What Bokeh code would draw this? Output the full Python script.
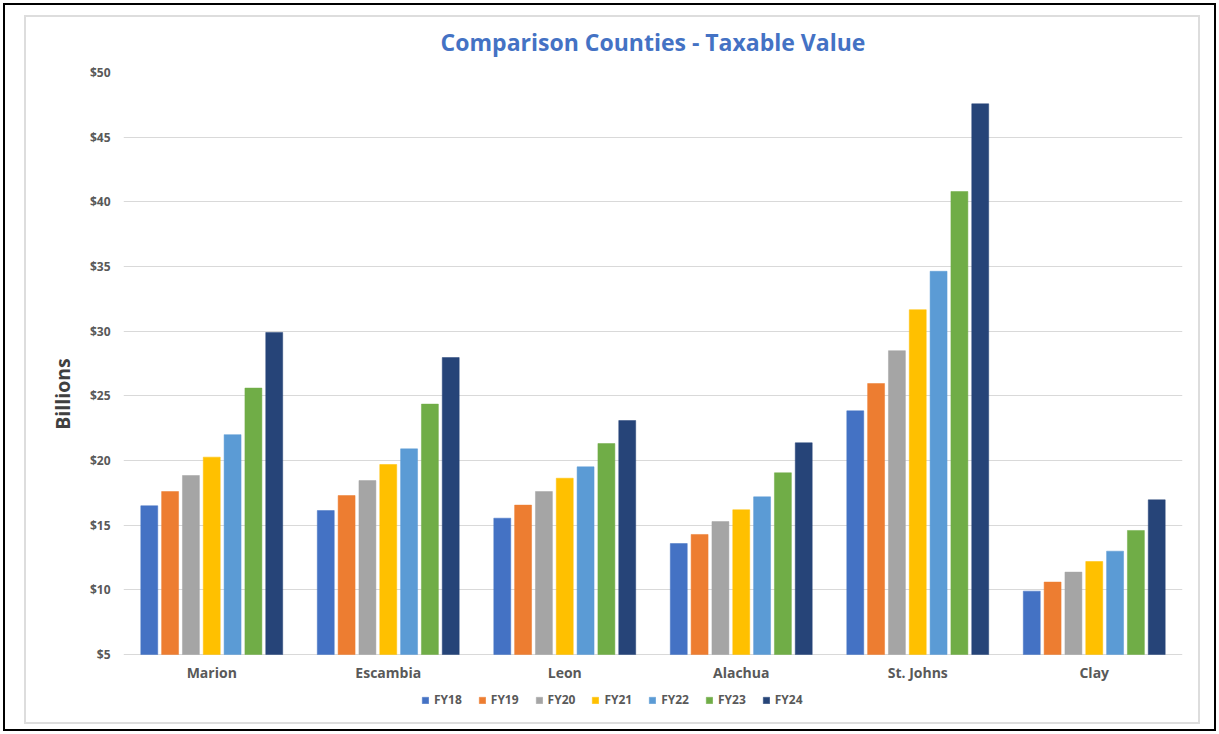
from bokeh.plotting import figure
from bokeh.models import (ColumnDataSource, FactorRange, FixedTicker, NumeralTickFormatter,
                          Legend, LegendItem)
from bokeh.core.properties import value
from bokeh.transform import dodge
from bokeh.embed import file_html
from bokeh.resources import INLINE

counties = ["Marion", "Escambia", "Leon", "Alachua", "St. Johns", "Clay"]
years = ["FY18", "FY19", "FY20", "FY21", "FY22", "FY23", "FY24"]
FY18 = [16.5, 16.13, 15.54, 13.58, 23.84, 9.9]
FY19 = [17.6, 17.29, 16.55, 14.28, 25.95, 10.6]
FY20 = [18.84, 18.45, 17.6, 15.28, 28.49, 11.37]
FY21 = [20.26, 19.69, 18.63, 16.19, 31.66, 12.19]
FY22 = [22.0, 20.9, 19.51, 17.19, 34.63, 12.99]
FY23 = [25.6, 24.36, 21.31, 19.05, 40.8, 14.59]
FY24 = [29.9, 27.96, 23.09, 21.37, 47.58, 16.96]
series = [FY18, FY19, FY20, FY21, FY22, FY23, FY24]
colors = ["#4472C4", "#ED7D31", "#A5A5A5", "#FFC000", "#5B9BD5", "#70AD47", "#264478"]
y_ticks = [5, 10, 15, 20, 25, 30, 35, 40, 45, 50]

data = {"county": counties}
for name, vals in zip(years, series):
    data[name] = vals
src = ColumnDataSource(data)

FONT = "Open Sans"

# layout geometry (pixels)
PX_PER_UNIT = 582 / 45.0          # $5 .. $50 spans 582 px
BELOW_BASE_PX = 61                # frame extends below the $5 baseline for labels + legend
Y_START = 5 - BELOW_BASE_PX / PX_PER_UNIT
LABEL_Y = 5 - 18 / PX_PER_UNIT

# chart-area borders painted behind the (transparent) canvas border area
g_black = "linear-gradient(#000000,#000000)"
g_gray = "linear-gradient(#DDDDDD,#DDDDDD)"
frame_styles = {
    "background-color": "white",
    "background-image": ", ".join([g_black] * 4 + [g_gray] * 4),
    "background-position": "3px 3px, 3px 729px, 3px 3px, 1214px 3px, "
                           "24px 15px, 24px 722px, 24px 15px, 1198px 15px",
    "background-size": "1213px 2px, 1213px 2px, 2px 728px, 2px 728px, "
                       "1176px 2px, 1176px 2px, 2px 709px, 2px 709px",
    "background-repeat": "no-repeat",
}

p = figure(x_range=FactorRange(*counties, range_padding=0), y_range=(Y_START, 50),
           frame_width=1059, frame_height=582 + BELOW_BASE_PX,
           min_border_left=123, min_border_right=36, min_border_top=72, min_border_bottom=18,
           output_backend="svg", toolbar_location=None,
           background_fill_color="white", border_fill_alpha=0,
           styles=frame_styles)
p.outline_line_color = None

pitch = 0.118
items = []
for j, (name, col) in enumerate(zip(years, colors)):
    r = p.vbar(x=dodge("county", (j - 3) * pitch, range=p.x_range), top=name, bottom=5,
               width=0.096, source=src, fill_color=col, line_color=col, line_width=0.5)
    items.append(LegendItem(label=name, renderers=[r]))

# category labels under the $5 baseline
p.text(x="county", y=LABEL_Y, text="county", source=src,
       text_font=value(FONT), text_font_style="bold", text_font_size="14px",
       text_color="#595959", text_align="center", text_baseline="middle")

# y axis
p.yaxis.ticker = FixedTicker(ticks=y_ticks)
p.yaxis.formatter = NumeralTickFormatter(format="$0")
p.yaxis.axis_line_color = None
p.yaxis.major_tick_line_color = None
p.yaxis.minor_tick_line_color = None
p.yaxis.major_tick_out = 0
p.yaxis.major_tick_in = 0
p.yaxis.minor_tick_out = 0
p.yaxis.major_label_text_font = FONT
p.yaxis.major_label_text_font_style = "bold"
p.yaxis.major_label_text_font_size = "12px"
p.yaxis.major_label_text_color = "#595959"
p.yaxis.major_label_standoff = 13
p.yaxis.axis_label = "Billions"
p.yaxis.axis_label_text_font = FONT
p.yaxis.axis_label_text_font_style = "bold"
p.yaxis.axis_label_text_font_size = "19.5px"
p.yaxis.axis_label_text_color = "#404040"
p.yaxis.axis_label_standoff = 11

p.xaxis.visible = False

p.xgrid.grid_line_color = None
p.ygrid.grid_line_color = "#D9D9D9"
p.ygrid.grid_line_width = 1

# title
p.title.text = "Comparison Counties - Taxable Value"
p.title.align = "center"
p.title.vertical_align = "bottom"
p.title.text_font = FONT
p.title.text_font_style = "bold"
p.title.text_font_size = "23px"
p.title.text_color = "#4472C4"
p.title.standoff = 30

legend = Legend(items=items, orientation="horizontal", location=(298, 7),
                glyph_width=8, glyph_height=8, label_standoff=5, spacing=16,
                padding=0, margin=0, label_height=12,
                label_text_font=FONT, label_text_font_style="bold",
                label_text_font_size="12px", label_text_color="#595959",
                border_line_color=None, background_fill_alpha=0)
p.add_layout(legend, "center")

open("out.html", "w").write(file_html(p, INLINE))
